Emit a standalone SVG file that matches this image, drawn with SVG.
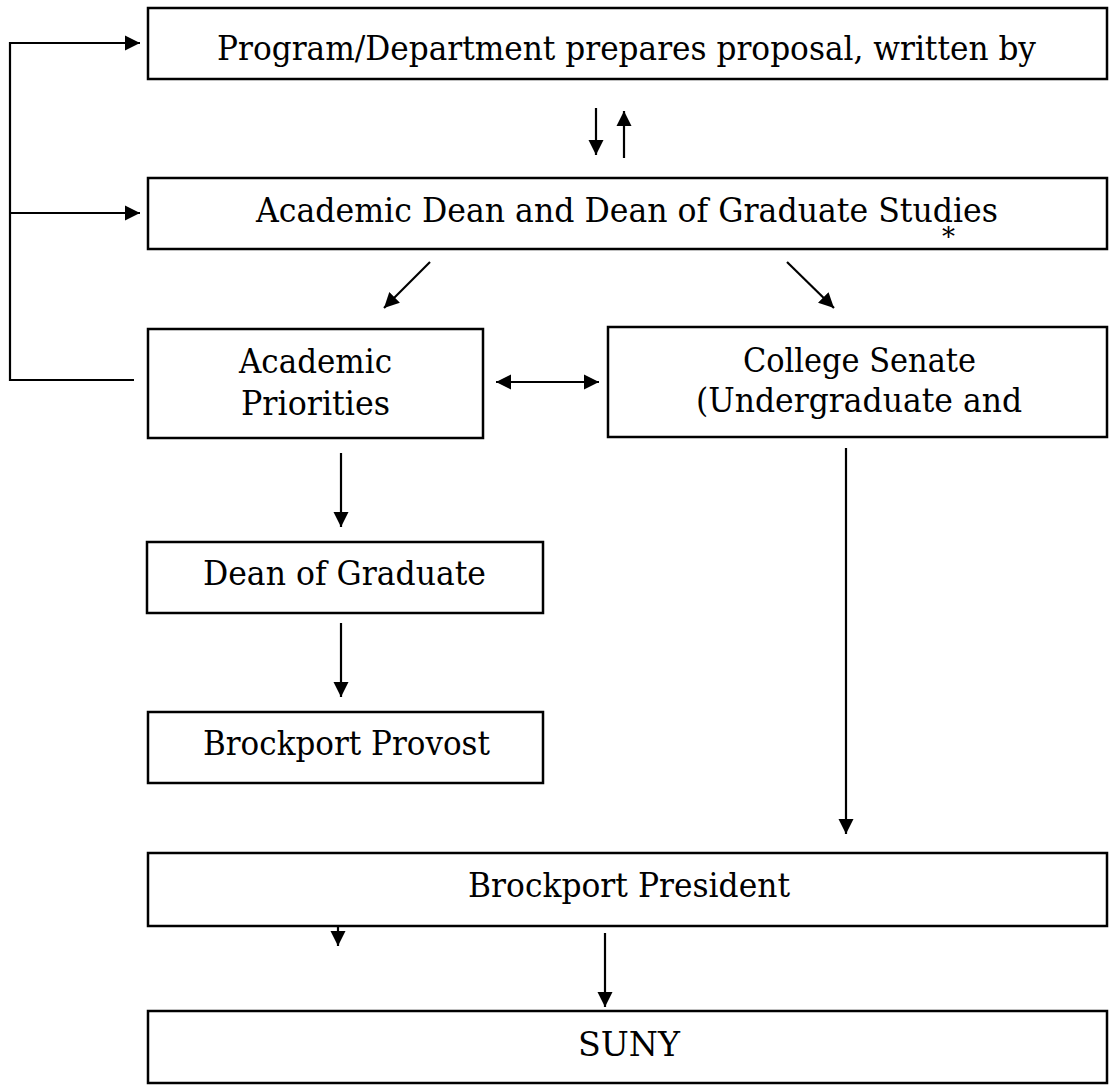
<svg xmlns="http://www.w3.org/2000/svg" width="1110" height="1085" viewBox="0 0 1110 1085">
<style>
.box{fill:#fff;stroke:#000;stroke-width:2.5}
.t{font-family:"DejaVu Serif","Liberation Serif",serif;font-size:33px;fill:#000}
.c{fill:none;stroke:#000;stroke-width:2.2}
</style>
<defs>
<marker id="ah" markerUnits="userSpaceOnUse" markerWidth="17" markerHeight="16" refX="15" refY="8" orient="auto">
<path d="M0,0.5 L15,8 L0,15.5 Z" fill="#000"/>
</marker>
</defs>
<rect width="1110" height="1085" fill="#fff"/>
<g id="n1"><rect class="box" x="148" y="8" width="959" height="71"/>
<text class="t" x="217" y="60" textLength="819" lengthAdjust="spacingAndGlyphs">Program/Department prepares proposal, written by</text></g>
<g id="n2"><rect class="box" x="148" y="178" width="959" height="71"/>
<text class="t" x="256" y="222" textLength="742" lengthAdjust="spacingAndGlyphs">Academic Dean and Dean of Graduate Studies</text>
<text class="t" x="942" y="246" style="font-size:26px">*</text></g>
<g id="n3"><rect class="box" x="148" y="329" width="335" height="109"/>
<text class="t" x="239" y="373" textLength="153" lengthAdjust="spacingAndGlyphs">Academic</text>
<text class="t" x="241" y="415" textLength="149" lengthAdjust="spacingAndGlyphs">Priorities</text></g>
<g id="n4"><rect class="box" x="608" y="327" width="499" height="110"/>
<text class="t" x="743" y="372" textLength="233" lengthAdjust="spacingAndGlyphs">College Senate</text>
<text class="t" x="696" y="412" textLength="326" lengthAdjust="spacingAndGlyphs">(Undergraduate and</text></g>
<g id="n5"><rect class="box" x="147" y="542" width="396" height="71"/>
<text class="t" x="203" y="585" textLength="283" lengthAdjust="spacingAndGlyphs">Dean of Graduate</text></g>
<g id="n6"><rect class="box" x="148" y="712" width="395" height="71"/>
<text class="t" x="203" y="755" textLength="287" lengthAdjust="spacingAndGlyphs">Brockport Provost</text></g>
<g id="n7"><rect class="box" x="148" y="853" width="959" height="73"/>
<text class="t" x="468" y="897" textLength="322" lengthAdjust="spacingAndGlyphs">Brockport President</text></g>
<g id="n8"><rect class="box" x="148" y="1011" width="959" height="72"/>
<text class="t" x="578" y="1056" textLength="102" lengthAdjust="spacingAndGlyphs">SUNY</text></g>
<g id="connectors">
<polyline class="c" points="134,380 10,380 10,43 140,43" marker-end="url(#ah)"/>
<line class="c" x1="10" y1="213" x2="140" y2="213" marker-end="url(#ah)"/>
<line class="c" x1="596" y1="108" x2="596" y2="155" marker-end="url(#ah)"/>
<line class="c" x1="624" y1="158" x2="624" y2="111" marker-end="url(#ah)"/>
<line class="c" x1="430" y1="262" x2="384" y2="308" marker-end="url(#ah)"/>
<line class="c" x1="787" y1="262" x2="834" y2="308" marker-end="url(#ah)"/>
<line class="c" x1="540" y1="382" x2="496" y2="382" marker-end="url(#ah)"/>
<line class="c" x1="540" y1="382" x2="599" y2="382" marker-end="url(#ah)"/>
<line class="c" x1="341" y1="453" x2="341" y2="527" marker-end="url(#ah)"/>
<line class="c" x1="341" y1="623" x2="341" y2="697" marker-end="url(#ah)"/>
<line class="c" x1="846" y1="448" x2="846" y2="834" marker-end="url(#ah)"/>
<line class="c" x1="338" y1="926" x2="338" y2="946" marker-end="url(#ah)"/>
<line class="c" x1="605" y1="933" x2="605" y2="1007" marker-end="url(#ah)"/>
</g>
</svg>
